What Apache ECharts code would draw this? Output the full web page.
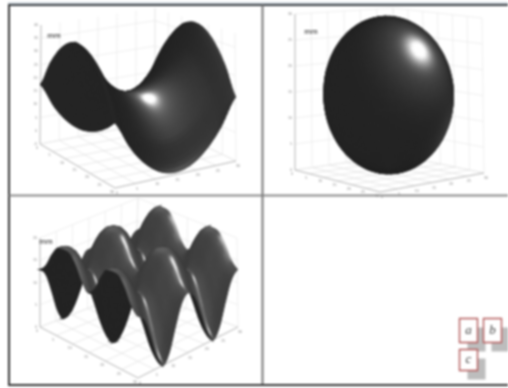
<!DOCTYPE html>
<html>
<head>
<meta charset="utf-8">
<style>
  html, body { margin: 0; background: #fff; }
  #chart { width: 508px; height: 388px; filter: blur(0.8px); }
</style>
<script src="https://cdn.jsdelivr.net/npm/echarts@6/dist/echarts.min.js"></script>
</head>
<body>
<div id="chart"></div>
<script>
// heights, as a fraction of each box height
const saddleRow0 = [0.50, 0.29, 0.14, 0.05, 0.02, 0.05, 0.14, 0.29, 0.50];
const saddleRow1 = [0.71, 0.50, 0.35, 0.26, 0.23, 0.26, 0.35, 0.50, 0.71];
const saddleRow2 = [0.86, 0.65, 0.50, 0.41, 0.38, 0.41, 0.50, 0.65, 0.86];
const saddleRow3 = [0.95, 0.74, 0.59, 0.50, 0.47, 0.50, 0.59, 0.74, 0.95];
const saddleRow4 = [0.98, 0.77, 0.62, 0.53, 0.50, 0.53, 0.62, 0.77, 0.98];
const saddleHeights = [saddleRow0, saddleRow1, saddleRow2, saddleRow3, saddleRow4, saddleRow3, saddleRow2, saddleRow1, saddleRow0];

const waveRow0 = [0.646, 0.566, 0.350, 0.107, 0.000, 0.107, 0.350, 0.566, 0.646, 0.566, 0.350, 0.107, 0.000, 0.107, 0.350, 0.566, 0.646];
const waveRow1 = [0.721, 0.646, 0.443, 0.211, 0.107, 0.211, 0.443, 0.646, 0.721, 0.646, 0.443, 0.211, 0.107, 0.211, 0.443, 0.646, 0.721];
const waveRow2 = [0.875, 0.816, 0.646, 0.443, 0.350, 0.443, 0.646, 0.816, 0.875, 0.816, 0.646, 0.443, 0.350, 0.443, 0.646, 0.816, 0.875];
const waveRow3 = [0.980, 0.944, 0.816, 0.646, 0.566, 0.646, 0.816, 0.944, 0.980, 0.944, 0.816, 0.646, 0.566, 0.646, 0.816, 0.944, 0.980];
const waveRow4 = [1.000, 0.980, 0.875, 0.721, 0.646, 0.721, 0.875, 0.980, 1.000, 0.980, 0.875, 0.721, 0.646, 0.721, 0.875, 0.980, 1.000];
const waveHeights = [waveRow0, waveRow1, waveRow2, waveRow3, waveRow4, waveRow3, waveRow2, waveRow1, waveRow0, waveRow1, waveRow2, waveRow3, waveRow4, waveRow3, waveRow2, waveRow1, waveRow0];

// the ellipsoid, as rings from bottom to top
const eggRingRadius = [0, 0.174, 0.342, 0.5, 0.643, 0.766, 0.866, 0.94, 0.985, 1, 0.985, 0.94, 0.866, 0.766, 0.643, 0.5, 0.342, 0.174, 0];
const eggRingHeight = [-1, -0.985, -0.94, -0.866, -0.766, -0.643, -0.5, -0.342, -0.174, 0, 0.174, 0.342, 0.5, 0.643, 0.766, 0.866, 0.94, 0.985, 1];

// tick labels are barely legible in the picture, these are best guesses
const saddleZLabels = ['40', '35', '30', '25', '20', '15', '10', '5', '0', '-5'];
const saddleULabels = ['0', '5', '10', '15', '20', '25', '30'];
const saddleVLabels = ['0', '5', '10', '15', '20', '25', '30'];
const eggZLabels = ['30', '25', '20', '15', '10', '5', '0'];
const eggULabels = ['0', '5', '10', '15', '20', '25', '30'];
const eggVLabels = ['0', '5', '10', '15', '20', '25', '30'];
const waveZLabels = ['20', '15', '10', '5', '0'];
const waveULabels = ['0', '5', '10', '15', '20', '25', '30'];
const waveVLabels = ['0', '5', '10', '15', '20', '25', '30'];
const legendLabels = ['a', 'b', 'c'];

function catmull(a, t) {
  const n = a.length - 1;
  const x = Math.min(Math.max(t, 0), 1) * n;
  const i = Math.min(Math.floor(x), n - 1);
  const f = x - i;
  const p0 = a[Math.max(i - 1, 0)], p1 = a[i], p2 = a[i + 1], p3 = a[Math.min(i + 2, n)];
  return 0.5 * (2 * p1 + (p2 - p0) * f + (2 * p0 - 5 * p1 + 4 * p2 - p3) * f * f + (3 * p1 - p0 - 3 * p2 + p3) * f * f * f);
}

// smooth drawing of a typed grid, same idea as smooth:true on a line
const gridSurface = heights => (s, t) => {
  const column = heights.map(row => catmull(row, t));
  return [s, t, catmull(column, s)];
};
const eggSurface = (s, t) => {
  const r = Math.max(0, catmull(eggRingRadius, s));
  const h = Math.max(-1, Math.min(1, catmull(eggRingHeight, s)));
  const a = 2 * Math.PI * t;
  return [0.5 + 0.485 * r * Math.cos(a), 0.5 + 0.485 * r * Math.sin(a), 0.5 + 0.5 * h];
};

const panels = [
  {
    rect: [9, 5, 253, 190], floor: [[115, 188], [40, 144], [236, 161], [155, 122]], top: [[115, 58], [41, 25], [235, 33], [155, 8]],
    surface: gridSurface(saddleHeights), rows: 56, cols: 56, closed: false,
    base: 36, backTone: 37, zEvery: 2,
    lobes: [{ at: [149, 97], power: 60, gain: 235 }, { at: [149, 97], power: 8, gain: 82 }, { at: [222, 85], power: 5, gain: 12 }],
    zLabels: saddleZLabels, uLabels: saddleULabels, vLabels: saddleVLabels, unit: [54, 36]
  },
  {
    rect: [263, 5, 245, 190], floor: [[380, 192], [295, 170], [484, 173], [397, 155]], top: [[380, 26], [295, 14], [482, 18], [393, 8]],
    surface: eggSurface, rows: 72, cols: 140, closed: true,
    base: 36, backTone: 36, zEvery: 1,
    lobes: [{ at: [417, 50], power: 45, gain: 225 }, { at: [417, 50], power: 5, gain: 48 }, { at: [445, 130], power: 12, gain: 22 }],
    zLabels: eggZLabels, uLabels: eggULabels, vLabels: eggVLabels, unit: [311, 32]
  },
  {
    rect: [9, 197, 253, 188], floor: [[138, 378], [40, 327], [238, 327], [135, 290]], top: [[138, 282], [40, 238], [237, 238], [138, 198]],
    surface: gridSurface(waveHeights), rows: 96, cols: 96, closed: false,
    base: 62, backTone: 36, zEvery: 1,
    lobes: [{ at: [177, 265], power: 70, gain: 185 }, { at: [177, 265], power: 5, gain: 26 }, { at: [160, 248], power: 4, gain: 34 }],
    zLabels: waveZLabels, uLabels: waveULabels, vLabels: waveVLabels, unit: [46, 242]
  }
];

const mix = (a, b, t) => [a[0] + (b[0] - a[0]) * t, a[1] + (b[1] - a[1]) * t];
function project(panel, u, v, z) {
  const row = c => mix(mix(c[0], c[1], u), mix(c[2], c[3], u), v);
  return mix(row(panel.floor), row(panel.top), z);
}
const cross = (a, b) => [a[1] * b[2] - a[2] * b[1], a[2] * b[0] - a[0] * b[2], a[0] * b[1] - a[1] * b[0]];
const dot = (a, b) => a[0] * b[0] + a[1] * b[1] + a[2] * b[2];
const unit = a => { const l = Math.hypot(a[0], a[1], a[2]) || 1; return a.map(x => x / l); };

function buildCells(panel) {
  const f = panel.floor, t = panel.top;
  const ex = [f[1][0] - f[0][0], f[1][1] - f[0][1]];
  const ey = [f[2][0] - f[0][0], f[2][1] - f[0][1]];
  const ez = [t[0][0] - f[0][0], t[0][1] - f[0][1]];
  let away = cross([ex[0], ey[0], ez[0]], [ex[1], ey[1], ez[1]]);
  if (away[2] > 0) away = away.map(x => -x);
  away = unit(away);

  const cells = [];
  const { rows, cols, surface } = panel;
  for (let i = 0; i < rows; i++) {
    // the bottom pole of the closed shape is never seen from above
    if (panel.closed && i < 2) continue;
    for (let j = 0; j < cols; j++) {
      const s0 = i / rows, s1 = (i + 1) / rows, t0 = j / cols, t1 = (j + 1) / cols;
      const corners = [surface(s0, t0), surface(s1, t0), surface(s1, t1), surface(s0, t1)];
      const a = corners[2].map((x, k) => x - corners[0][k]);
      const b = corners[3].map((x, k) => x - corners[1][k]);
      const n = unit(cross(a, b));
      const centre = [0, 1, 2].map(k => (corners[0][k] + corners[1][k] + corners[2][k] + corners[3][k]) / 4);
      const front = dot(n, away) < 0;
      if (panel.closed && !front) continue;
      const pts = corners.map(c => project(panel, c[0], c[1], c[2]));
      const mid = project(panel, centre[0], centre[1], centre[2]);
      cells.push({ pts, n, front, mid, depth: dot(away, centre) });
    }
  }
  cells.sort((p, q) => q.depth - p.depth);

  // each light lobe points along the normal of the surface at a spot of the picture
  panel.lobes.forEach(lobe => {
    let best = null, bestScore = Infinity;
    cells.forEach(c => {
      if (!c.front) return;
      const d = Math.hypot(c.mid[0] - lobe.at[0], c.mid[1] - lobe.at[1]);
      const score = (d < 3 ? 0 : d) + c.depth;
      if (score < bestScore) { bestScore = score; best = c; }
    });
    lobe.n = best.n;
  });
  cells.forEach(c => {
    let g = c.front ? panel.base : panel.backTone;
    if (c.front) panel.lobes.forEach(l => { g += l.gain * Math.pow(Math.max(0, dot(c.n, l.n)), l.power); });
    c.tone = Math.round(Math.min(255, g));
  });
  return cells.map(c => [c.pts[0][0], c.pts[0][1], c.pts[1][0], c.pts[1][1], c.pts[2][0], c.pts[2][1], c.pts[3][0], c.pts[3][1], c.tone]);
}

function buildLines(panel) {
  const lines = [];
  const add = (a, b, tone) => {
    const p = project(panel, a[0], a[1], a[2]), q = project(panel, b[0], b[1], b[2]);
    lines.push([p[0], p[1], q[0], q[1], tone]);
  };
  const un = panel.uLabels.length - 1, vn = panel.vLabels.length - 1, zn = panel.zLabels.length - 1;
  for (let i = 0; i <= un; i++) {
    const u = i / un;
    add([u, 0, 0], [u, 1, 0], 224);
    add([u, 1, 0], [u, 1, 1], 232);
  }
  for (let i = 0; i <= vn; i++) {
    const v = i / vn;
    add([0, v, 0], [1, v, 0], 224);
    add([1, v, 0], [1, v, 1], 232);
  }
  for (let i = 0; i <= zn; i += panel.zEvery) {
    const z = i / zn;
    add([1, 0, z], [1, 1, z], 232);
    add([0, 1, z], [1, 1, z], 232);
  }
  add([1, 0, 0], [1, 0, 1], 165);
  add([0, 0, 0], [1, 0, 0], 165);
  add([0, 0, 0], [0, 1, 0], 165);
  return lines;
}

function buildLabels(panel) {
  const labels = [];
  panel.zLabels.forEach((text, i) => {
    const p = project(panel, 1, 0, 1 - i / (panel.zLabels.length - 1));
    labels.push({ value: [p[0] - 3, p[1]], text, align: 'right' });
  });
  panel.uLabels.forEach((text, i) => {
    const p = project(panel, 1 - i / (panel.uLabels.length - 1), 0, 0);
    labels.push({ value: [p[0] - 3, p[1] + 4], text, align: 'center' });
  });
  panel.vLabels.forEach((text, i) => {
    const p = project(panel, 0, i / (panel.vLabels.length - 1), 0);
    labels.push({ value: [p[0] + 2, p[1] + 5], text, align: 'center' });
  });
  labels.push({ value: panel.unit, text: 'mm', align: 'center', big: true });
  return labels;
}

const grids = [], xAxes = [], yAxes = [], series = [];
panels.forEach((panel, index) => {
  const [x, y, w, h] = panel.rect;
  grids.push({ left: x, top: y, width: w, height: h });
  xAxes.push({ type: 'value', gridIndex: index, min: x, max: x + w, show: false });
  yAxes.push({ type: 'value', gridIndex: index, min: y, max: y + h, inverse: true, show: false });
  const axes = { xAxisIndex: index, yAxisIndex: index, coordinateSystem: 'cartesian2d', silent: true, animation: false, progressive: 0 };

  series.push({
    ...axes, type: 'custom', z: 1, clip: true, data: buildLines(panel), encode: { x: [0, 2], y: [1, 3] },
    renderItem: (params, api) => {
      const a = api.coord([api.value(0), api.value(1)]), b = api.coord([api.value(2), api.value(3)]);
      const g = api.value(4);
      return { type: 'line', shape: { x1: a[0], y1: a[1], x2: b[0], y2: b[1] }, style: { stroke: `rgb(${g},${g},${g})`, lineWidth: 0.7 } };
    }
  });

  const labels = buildLabels(panel);
  series.push({
    ...axes, type: 'custom', z: 2, clip: false, data: labels.map(l => l.value), encode: { x: 0, y: 1 },
    renderItem: (params, api) => {
      const l = labels[params.dataIndex];
      const p = api.coord([api.value(0), api.value(1)]);
      return {
        type: 'text', x: p[0], y: p[1],
        style: {
          text: l.text, align: l.align, verticalAlign: 'middle', fontFamily: 'Liberation Sans',
          fontSize: l.big ? 8 : 3.6, fill: l.big ? '#222' : '#888'
        }
      };
    }
  });

  series.push({
    ...axes, type: 'custom', z: 3, clip: true, data: buildCells(panel), encode: { x: [0, 2, 4, 6], y: [1, 3, 5, 7] },
    renderItem: (params, api) => {
      const points = [0, 2, 4, 6].map(k => api.coord([api.value(k), api.value(k + 1)]));
      const g = api.value(8);
      const c = `rgb(${g},${g},${g})`;
      return { type: 'polygon', shape: { points }, style: { fill: c, stroke: c, lineWidth: 1.3 } };
    }
  });
});

const frameLine = (x1, y1, x2, y2, stroke, lineWidth) => ({ type: 'line', shape: { x1, y1, x2, y2 }, style: { stroke, lineWidth }, z: 20, silent: true });
const legendBox = (x, y, w, h, text) => [
  { type: 'rect', shape: { x: x + 8, y: y + 9, width: w, height: h }, style: { fill: '#bdbdbd' }, z: 20 },
  { type: 'rect', shape: { x, y, width: w, height: h }, style: { fill: '#fff', stroke: '#b25a5a', lineWidth: 1.4 }, z: 21 },
  {
    type: 'text', x: x + w / 2, y: y + h / 2, z: 22,
    style: { text, align: 'center', verticalAlign: 'middle', fontFamily: 'Liberation Serif', fontStyle: 'italic', fontSize: 13, fill: '#444' }
  }
];

const chart = echarts.init(document.getElementById('chart'), null, { renderer: 'canvas' });
chart.setOption({
  animation: false,
  backgroundColor: '#fff',
  grid: grids,
  xAxis: xAxes,
  yAxis: yAxes,
  series,
  graphic: [
    frameLine(8, 3, 508, 3, '#a9b8c4', 1),
    frameLine(8, 5, 508, 5, '#3a3f44', 2),
    frameLine(9, 4, 9, 386, '#333', 2),
    frameLine(9, 195.5, 508, 195.5, '#8a8a8a', 2),
    frameLine(262.5, 5, 262.5, 385, '#777', 2),
    frameLine(8, 385, 508, 385, '#333', 2),
    ...legendBox(459.5, 318.5, 18, 24, legendLabels[0]),
    ...legendBox(483.5, 318.5, 18, 24, legendLabels[1]),
    ...legendBox(459.5, 349.5, 18, 21, legendLabels[2])
  ]
});
</script>
</body>
</html>
